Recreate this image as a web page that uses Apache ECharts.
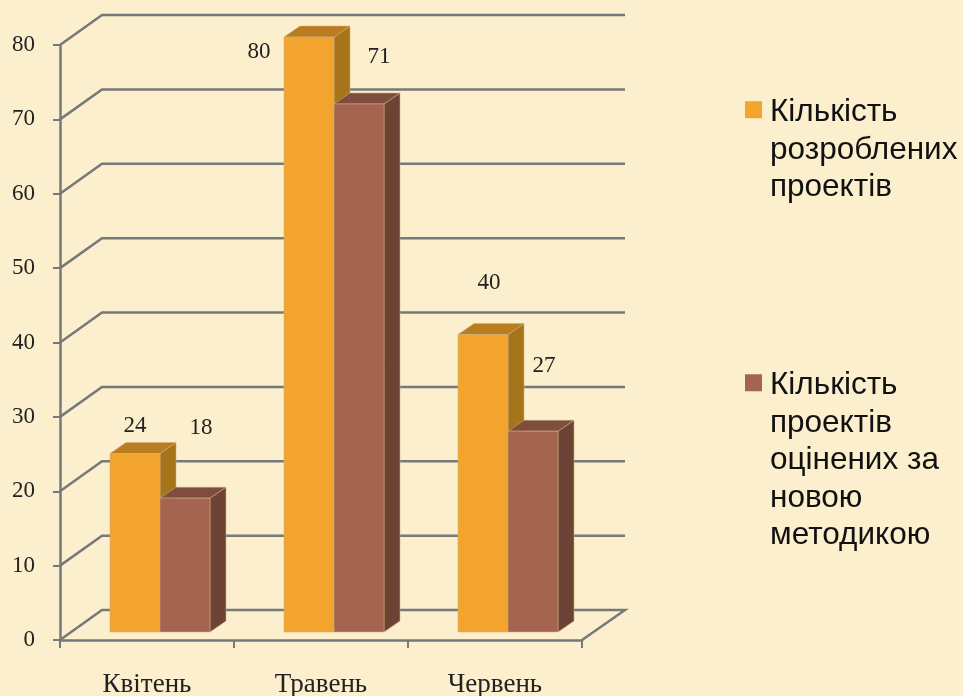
<!DOCTYPE html>
<html>
<head>
<meta charset="utf-8">
<title>Проекти</title>
<style>
  html, body { margin: 0; padding: 0; background: #fcefcd; }
  #chart { width: 963px; height: 696px; }
</style>
<script src="https://cdn.jsdelivr.net/npm/echarts@6/dist/echarts.min.js"></script>
</head>
<body>
<div id="chart"></div>
<script>
const months = ['Квітень', 'Травень', 'Червень']
const developed = [24, 80, 40]
const assessed = [18, 71, 27]
const gridValues = [0, 10, 20, 30, 40, 50, 60, 70, 80]
const nameDeveloped = 'Кількість\nрозроблених\nпроектів'
const nameAssessed = 'Кількість\nпроектів\nоцінених за\nновою\nметодикою'

// hand placed value labels, px from the top middle of each bar
const offsetsDeveloped = [[0, -28], [-50, 15], [6, -52]]
const offsetsAssessed = [[16, -70], [20, -47], [11, -65]]

const serif = '"Liberation Serif", serif'
const sans = '"Liberation Sans", Arial, sans-serif'
const gridColor = '#76787a'
const depthX = 42
const depthY = 30

function barSeries (name, values, offsets, index, front, top, side) {
  return {
    type: 'custom',
    name: name,
    z: 3,
    itemStyle: { color: front },
    encode: { x: 0, y: 1 },
    data: values.map((v, i) => [i, v]),
    renderItem: function (params, api) {
      const width = 50
      const dx = 16
      const dy = 11
      const p = api.coord([api.value(0), api.value(1)])
      const base = api.coord([api.value(0), 0])[1] - 8
      const y = p[1] - 8
      const x = p[0] + 13 - width + index * width
      const off = offsets[params.dataIndex]
      return {
        type: 'group',
        children: [
          {
            type: 'polygon',
            shape: { points: [[x + width, y], [x + width + dx, y - dy], [x + width + dx, base - dy], [x + width, base]] },
            style: { fill: side, stroke: 'rgba(205,175,125,.55)', lineWidth: 1 }
          },
          {
            type: 'polygon',
            shape: { points: [[x, y], [x + dx, y - dy], [x + width + dx, y - dy], [x + width, y]] },
            style: { fill: top, stroke: 'rgba(205,175,125,.55)', lineWidth: 1 }
          },
          {
            type: 'rect',
            shape: { x: x, y: y, width: width, height: base - y },
            style: { fill: front, stroke: 'rgba(205,175,125,.55)', lineWidth: 1 }
          },
          {
            type: 'text',
            z2: 10,
            style: {
              x: x + width / 2 + off[0],
              y: y + off[1],
              text: String(api.value(1)),
              fill: '#222',
              font: '23px ' + serif,
              align: 'center',
              verticalAlign: 'middle'
            }
          }
        ]
      }
    }
  }
}

function wallLines (params, api) {
  const c = params.coordSys
  const y = api.coord([0, api.value(1)])[1]
  const right = c.x + c.width + depthX + 1
  const pts = [[c.x, y], [c.x + depthX, y - depthY], [right, y - depthY]]
  // the floor closes back to the front right corner
  if (api.value(1) === 0) pts.push([c.x + c.width, y])
  return {
    type: 'polyline',
    shape: { points: pts },
    style: { fill: 'none', stroke: gridColor, lineWidth: 2.5 }
  }
}

// transparent bbox points keep the square on the first text line
function legendIcon (height) {
  return 'path://M0 0h0.01M0 7H17V24H0ZM0 ' + height + 'h0.01'
}

const myChart = echarts.init(document.getElementById('chart'), null, { renderer: 'canvas' })
myChart.setOption({
  backgroundColor: '#fcefcd',
  animation: false,
  color: ['#f2a42e', '#a5644f'],
  grid: { left: 60, right: 381, top: 45, bottom: 56, outerBoundsMode: 'none' },
  legend: [
    {
      data: [{ name: nameDeveloped, icon: legendIcon(112) }],
      left: 745,
      top: 94,
      padding: 0,
      itemWidth: 17,
      itemHeight: 112,
      itemGap: 0,
      selectedMode: false,
      textStyle: { fontFamily: sans, fontSize: 31.5, lineHeight: 37.5, color: '#111', padding: [0, 0, 0, 3] }
    },
    {
      data: [{ name: nameAssessed, icon: legendIcon(187) }],
      left: 745,
      top: 367,
      padding: 0,
      itemWidth: 17,
      itemHeight: 187,
      itemGap: 0,
      selectedMode: false,
      textStyle: { fontFamily: sans, fontSize: 31.5, lineHeight: 37.5, color: '#111', padding: [0, 0, 0, 3] }
    }
  ],
  xAxis: {
    type: 'category',
    data: months,
    axisLine: { lineStyle: { color: gridColor, width: 2.5 } },
    axisTick: { show: true, length: 8, lineStyle: { color: gridColor, width: 2 } },
    axisLabel: { margin: 31, fontFamily: serif, fontSize: 27, color: '#222' }
  },
  yAxis: {
    type: 'value',
    min: 0,
    max: 80,
    interval: 10,
    splitLine: { show: false },
    axisLine: { show: true, lineStyle: { color: gridColor, width: 2.5 } },
    axisTick: { show: true, length: 7, lineStyle: { color: gridColor, width: 2 } },
    axisLabel: { margin: 25, fontFamily: serif, fontSize: 23, color: '#222' }
  },
  series: [
    {
      type: 'custom',
      name: 'wall',
      z: 1,
      silent: true,
      encode: { x: 0, y: 1 },
      data: gridValues.map(v => [0, v]),
      renderItem: wallLines
    },
    barSeries(nameDeveloped, developed, offsetsDeveloped, 0, '#f2a42e', '#b97d1f', '#a6741a'),
    barSeries(nameAssessed, assessed, offsetsAssessed, 1, '#a5644f', '#7f4d3d', '#6d4335')
  ]
})
</script>
</body>
</html>
